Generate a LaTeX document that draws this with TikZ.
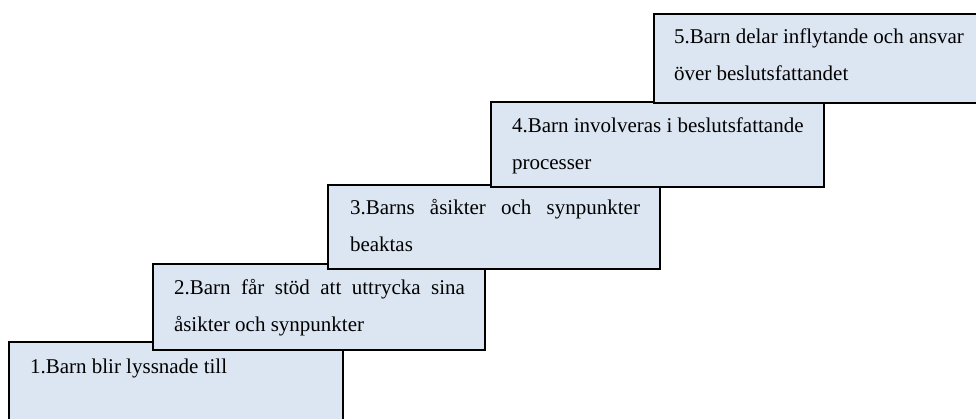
\documentclass[tikz,border=0pt]{standalone}
\usepackage{fontspec}
\setmainfont{Liberation Serif}
\definecolor{boxfill}{HTML}{DCE6F2}
\tikzset{
  stepbox/.style={draw=black, line width=2.2pt, fill=boxfill, rectangle,
    inner sep=0pt, outer sep=0pt, anchor=north west},
  steptext/.style={inner sep=0pt, outer sep=0pt, anchor=base west, text=black}
}
\newcommand{\steplines}[1]{\parbox[t]{300pt}{\fontsize{21pt}{37pt}\selectfont\raggedright #1}}
\begin{document}
\begin{tikzpicture}[x=1pt,y=-1pt]
\useasboundingbox (0,0) rectangle (976,418);
\clip (0,0) rectangle (976,418);
% step 1
\node[stepbox, minimum width=334pt, minimum height=90pt] (b1) at (9,342) {};
\node[steptext] (t1) at (30,373) {\steplines{1.Barn blir lyssnade till}};
% step 2
\node[stepbox, minimum width=332pt, minimum height=86pt] (b2) at (153,264) {};
\node[steptext] (t2) at (174,294) {\steplines{\makebox[291pt][s]{2.Barn får stöd att uttrycka sina}\\åsikter och synpunkter}};
% step 3
\node[stepbox, minimum width=332pt, minimum height=84pt] (b3) at (328,185) {};
\node[steptext] (t3) at (350,214) {\steplines{\makebox[290pt][s]{3.Barns åsikter och synpunkter}\\beaktas}};
% step 4
\node[stepbox, minimum width=333pt, minimum height=85pt] (b4) at (491,102) {};
\node[steptext] (t4) at (512,132) {\steplines{4.Barn involveras i beslutsfattande\\processer}};
% step 5
\node[stepbox, minimum width=340pt, minimum height=89pt] (b5) at (654,14) {};
\node[steptext] (t5) at (674,43) {\steplines{5.Barn delar inflytande och ansvar\\över beslutsfattandet}};
\end{tikzpicture}
\end{document}
